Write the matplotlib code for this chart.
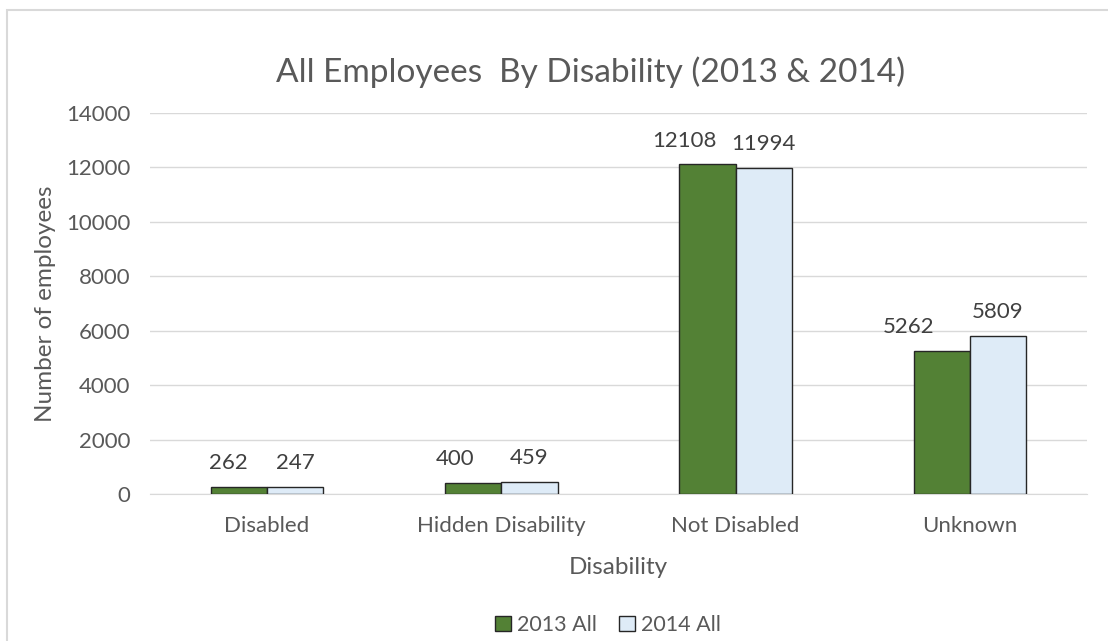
import matplotlib
matplotlib.use("Agg")
import matplotlib.pyplot as plt
import matplotlib.patches as mpatches
import numpy as np

categories = ["Disabled", "Hidden Disability", "Not Disabled", "Unknown"]
series_names = ["2013 All", "2014 All"]
values_2013 = [262, 400, 12108, 5262]
values_2014 = [247, 459, 11994, 5809]
yticks = [0, 2000, 4000, 6000, 8000, 10000, 12000, 14000]

# horizontal nudges (pixels) of the value labels, as placed in the reference
label_dx_2013 = [-11, -18, -23, -33]
label_dx_2014 = [0, 0, 0, 0]

plt.rcParams['font.family'] = ['Lato', 'DejaVu Sans']
W, H = 1108, 641
fig = plt.figure(figsize=(W/100, H/100), dpi=100)
fig.patch.set_facecolor("white")

# chart frame
fig.patches.append(mpatches.Rectangle((7/W, -0.1), 1.2, 1 - 10/H + 0.1,
                                      transform=fig.transFigure, fill=False,
                                      edgecolor="#D9D9D9", linewidth=1.5))

ax = fig.add_axes([150/W, 1 - 494/H, (1087-150)/W, (494-113)/H])
x = np.arange(len(categories))
bw = 0.24
tc = "#595959"
b1 = ax.bar(x - bw/2, values_2013, bw, color="#538135", edgecolor="#262626", linewidth=1, label=series_names[0], zorder=3)
b2 = ax.bar(x + bw/2, values_2014, bw, color="#DEEBF7", edgecolor="#262626", linewidth=1, label=series_names[1], zorder=3)
for bars, dxs in ((b1, label_dx_2013), (b2, label_dx_2014)):
    for r, dx in zip(bars, dxs):
        ax.annotate(f"{int(r.get_height())}", (r.get_x() + r.get_width()/2, r.get_height()),
                    xytext=(dx * 0.72, 10), textcoords="offset points",
                    ha="center", va="bottom", fontsize=16, color="#404040")

ax.set_xlim(-0.5, 3.5)
ax.set_ylim(0, 14000)
ax.set_yticks(yticks)
ax.set_yticklabels([str(t) for t in yticks])
ax.set_xticks(x)
ax.set_xticklabels(categories)
ax.tick_params(axis="both", length=0, labelsize=16, colors=tc)
ax.tick_params(axis="x", pad=16)
ax.tick_params(axis="y", pad=14)
ax.grid(axis="y", color="#D9D9D9", linewidth=1, zorder=0)
for s in ["top", "right", "left"]:
    ax.spines[s].set_visible(False)
ax.spines["bottom"].set_color("#D9D9D9")

ax.set_xlabel("Disability", fontsize=17.5, color=tc, labelpad=15)
ax.set_ylabel("Number of employees", fontsize=17.5, color=tc, labelpad=7)
fig.text(591/W, 1 - 72/H, "All Employees  By Disability (2013 & 2014)", ha="center", va="center",
         fontsize=24, color=tc)

leg = fig.legend(handles=[b1, b2], labels=series_names, loc="center", bbox_to_anchor=(608/W, 1 - 625/H),
                 ncol=2, frameon=False, fontsize=15.5, handlelength=0.75, handleheight=0.75,
                 handletextpad=0.3, columnspacing=1.0)
for t in leg.get_texts():
    t.set_color(tc)

fig.savefig("out.png", dpi=100)
